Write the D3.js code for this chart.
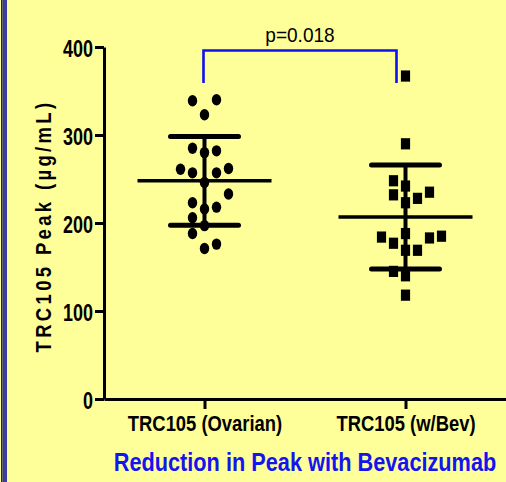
<!DOCTYPE html>
<html>
<head>
<meta charset="utf-8">
<script src="https://cdn.jsdelivr.net/npm/d3@7"></script>
<style>
  body { margin: 0; background: #ffff99; }
  svg { display: block; }
  text { font-family: 'Liberation Sans', Arial, sans-serif; }
</style>
</head>
<body>
<div id="graph"></div>
<script>
// Data

let categories = ['TRC105 (Ovarian)', 'TRC105 (w/Bev)'];

let ovarian = [340, 339, 323, 285, 280, 282, 261, 257, 257, 262, 246, 233, 223, 216, 218, 206, 197, 188, 171, 176];
let ovarianLane = [1, -1, 0, -1, 0, 1, -2, -1, 1, 2, 0, 2, -1, 0, 1, -1, 0, -1, 0, 1];

let bev = [367, 290, 248, 242, 235, 232, 223, 228, 188, 184, 177, 183, 185, 169, 169, 145, 140, 118];
let bevLane = [0, 0, -1, 0, 2, -1, 0, 1, 0, -2, -1, 2, 3, 0, 1, -1, 0, 0];

let yTicks = [0, 100, 200, 300, 400];
let pText = 'p=0.018';
let bracketValues = [396, 359];

let yTitle = 'TRC105 Peak (\u00b5g/mL)';
let bottomTitle = 'Reduction in Peak with Bevacizumab';

// D3 Code
let width = 506;
let height = 482;

let svg = d3.select('#graph').append('svg').attr('width', width).attr('height', height);

svg.append('rect').attr('width', width).attr('height', height).style('fill', '#ffff99');
// left border
svg.append('rect').attr('x', 1).attr('y', 0).attr('width', 1.5).attr('height', height).style('fill', '#2a2a10');
svg.append('rect').attr('x', 2.5).attr('y', 0).attr('width', 4.5).attr('height', height).style('fill', '#3b3ba0');

let x = d3.scalePoint().domain(categories).range([104, 506]).padding(0.5);
let y = d3.scaleLinear().domain([0, 400]).range([399, 47]);
let lane = d3.scaleLinear().domain([0, 1]).range([0, 12]);

// squeeze text sideways, like a narrow font
function narrow(sel, k) {
  sel.each(function () {
    let t = d3.select(this);
    let x0 = +t.attr('x') || 0;
    t.attr('x', x0 / k).attr('transform', 'scale(' + k + ',1)');
  });
}

// axes
let yAxis = svg
  .append('g')
  .attr('transform', 'translate(104, 0)')
  .call(d3.axisLeft(y).tickValues(yTicks).tickSize(9).tickSizeOuter(0).tickPadding(2));

let xAxis = svg
  .append('g')
  .attr('transform', 'translate(0, 399)')
  .call(d3.axisBottom(x).tickSize(10).tickSizeOuter(0).tickPadding(6));

svg.selectAll('.domain, .tick line').style('stroke', '#000').style('stroke-width', 3);

yAxis
  .selectAll('text')
  .attr('dy', '0.42em')
  .style('font-size', '23px')
  .style('font-weight', 'bold')
  .style('fill', '#000')
  .call(narrow, 0.78);

xAxis
  .selectAll('text')
  .attr('dy', '0.71em')
  .style('font-size', '22.3px')
  .style('font-weight', 'bold')
  .style('fill', '#000')
  .call(narrow, 0.825);

// points
function drawGroup(values, lanes, cat, shape) {
  let cx = x(cat);
  let g = svg.append('g');
  values.forEach(function (v, i) {
    let px = cx + lane(lanes[i]);
    if (shape == 'circle') {
      g.append('ellipse').attr('cx', px).attr('cy', y(v)).attr('rx', 4.7).attr('ry', 5.7).style('fill', '#000');
    } else {
      g.append('rect').attr('x', px - 4.6).attr('y', y(v) - 5.6).attr('width', 9.2).attr('height', 11.2).style('fill', '#000');
    }
  });

  let m = d3.mean(values);
  let sd = d3.deviation(values);

  g.append('line')
    .attr('x1', cx).attr('x2', cx)
    .attr('y1', y(m - sd)).attr('y2', y(m + sd))
    .style('stroke', '#000').style('stroke-width', 4);

  [m - sd, m + sd].forEach(function (v) {
    g.append('line')
      .attr('x1', cx - 34).attr('x2', cx + 34)
      .attr('y1', y(v)).attr('y2', y(v))
      .style('stroke', '#000').style('stroke-width', 5).style('stroke-linecap', 'round');
  });

  g.append('line')
    .attr('x1', cx - 67).attr('x2', cx + 67)
    .attr('y1', y(m)).attr('y2', y(m))
    .style('stroke', '#000').style('stroke-width', 3.3);
}

drawGroup(ovarian, ovarianLane, categories[0], 'circle');
drawGroup(bev, bevLane, categories[1], 'square');

// significance bracket
let bx1 = x(categories[0]) - 1;
let bx2 = x(categories[1]) - 9;
svg
  .append('path')
  .attr('d', 'M' + bx1 + ',' + y(bracketValues[1]) + 'V' + y(bracketValues[0]) + 'H' + bx2 + 'V' + y(bracketValues[1]))
  .style('fill', 'none')
  .style('stroke', '#1010f0')
  .style('stroke-width', 2.6);

svg
  .append('text')
  .attr('x', (bx1 + bx2) / 2)
  .attr('y', 42.5)
  .attr('text-anchor', 'middle')
  .style('font-size', '20.5px')
  .style('fill', '#000')
  .text(pText)
  .call(narrow, 0.93);

// y title
svg
  .append('g')
  .attr('transform', 'translate(51, 226) rotate(-90)')
  .append('text')
  .attr('text-anchor', 'middle')
  .attr('transform', 'scale(0.84, 1)')
  .style('font-size', '22px')
  .style('font-weight', 'bold')
  .style('letter-spacing', '4px')
  .style('fill', '#000')
  .text(yTitle);

// bottom title
svg
  .append('text')
  .attr('x', 305)
  .attr('y', 471.5)
  .attr('text-anchor', 'middle')
  .style('font-size', '26.5px')
  .style('font-weight', 'bold')
  .style('fill', '#1414f0')
  .text(bottomTitle)
  .call(narrow, 0.82);
</script>
</body>
</html>
